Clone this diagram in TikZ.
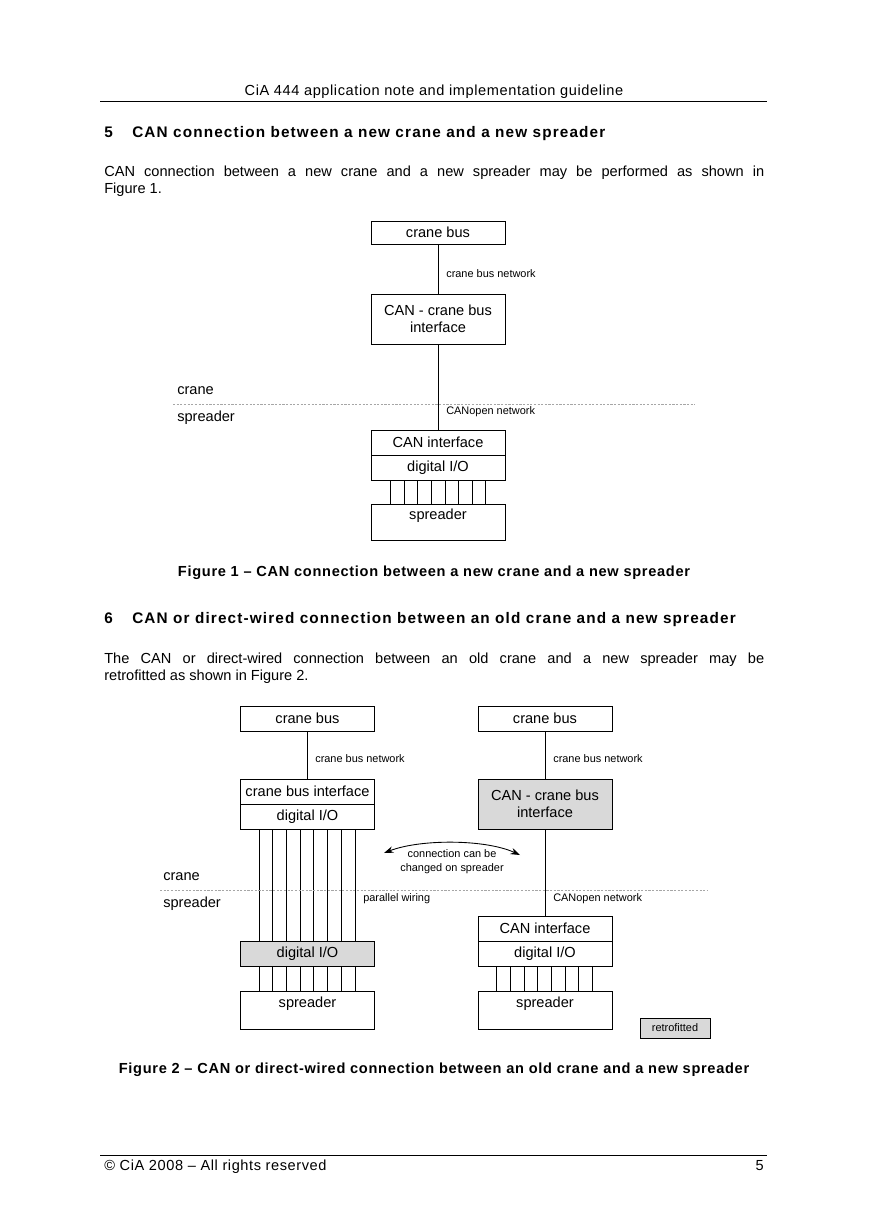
\documentclass[tikz,border=0pt]{standalone}
\usepackage{fontspec}
\setmainfont{Liberation Sans}
\newfontfamily\spcA[LetterSpace=4]{Liberation Sans}
\newfontfamily\spcB[LetterSpace=7.5]{Liberation Sans}
\newfontfamily\spcC[LetterSpace=4.8]{Liberation Sans}
\usetikzlibrary{arrows.meta,calc}
\newcommand\fnorm{\fontsize{10}{11.7}\selectfont}
\newcommand\fbody{\spcA\fontsize{10}{11.7}\selectfont}
\newcommand\fsml{\fontsize{7.5}{9.6}\selectfont}
\newcommand\fhead{\spcB\fontsize{10.5}{12}\selectfont\bfseries}
\newcommand\fcap{\spcC\fontsize{10}{12}\selectfont\bfseries}
\begin{document}
\begin{tikzpicture}[x=0.6858pt,y=-0.6858pt,
  box/.style={draw, line width=0.6pt, inner sep=0pt, minimum width=91.9pt, font=\fnorm, align=center},
  hA/.style={box, minimum height=17.1pt},
  hB/.style={box, minimum height=15.8pt},
  hC/.style={box, minimum height=34.3pt},
  hD/.style={box, minimum height=24.7pt},
  hE/.style={box, minimum height=26.1pt},
  retro/.style={fill=gray!30},
  conn/.style={line width=0.6pt},
  wire/.style={line width=0.6pt},
  sep/.style={gray!70, line width=0.4pt, dash pattern=on 1.5pt off 1pt},
  lbl/.style={font=\fsml, anchor=west, inner sep=0pt},
  side/.style={font=\fnorm, anchor=west, inner sep=0pt},
  txt/.style={font=\fnorm, anchor=base west, inner sep=0pt},
]
\useasboundingbox[fill=white] (0,0) rectangle (868,1228);

% header
\node[font=\fbody, anchor=base, inner sep=0pt] (hdr) at (434,96) {CiA 444 application note and implementation guideline};
\draw[line width=0.6pt] (100,101) -- (767,101);

% section 5
\node[font=\fhead, anchor=base west, inner sep=0pt] (s5n) at (104,138) {5};
\node[font=\fhead, anchor=base west, inner sep=0pt] (s5t) at (132,138) {CAN connection between a new crane and a new spreader};
\node[txt] (p1a) at (104,177) {\makebox[452.6pt][s]{CAN connection between a new crane and a new spreader may be performed as shown in}};
\node[txt] (p1b) at (104,194) {Figure 1.};

% figure 1
\node[hB] (cb1) at (438,232.5) {crane bus};
\node[hC] (cif1) at (438,319) {CAN - crane bus\\interface};
\node[hA] (can1) at (438,442.5) {CAN interface};
\node[hA] (dio1) at (438,467.5) {digital I/O};
\node[hD] (sp1) at (438,522) {};
\node[font=\fnorm, inner sep=0pt] (sp1t) at (438,516) {spreader};
\draw[conn] (cb1) -- (cif1);
\draw[conn] (cif1) -- (can1);
\foreach \i in {0,...,7}
  \draw[wire] ($(dio1.south west)+(20+\i*13.6,0)$) -- ($(sp1.north west)+(20+\i*13.6,0)$);
\draw[sep] (173,404) -- (695,404);
\node[side] (cr1) at (177,391) {crane};
\node[side] (spr1) at (177,418) {spreader};
\node[lbl] (l1) at (446,274) {crane bus network};
\node[lbl] (l2) at (446,412) {CANopen network};
\node[font=\fcap, anchor=base, inner sep=0pt] (cap1) at (434,576) {Figure 1 \textendash{} CAN connection between a new crane and a new spreader};

% section 6
\node[font=\fhead, anchor=base west, inner sep=0pt] (s6n) at (104,623) {6};
\node[font=\fhead, anchor=base west, inner sep=0pt] (s6t) at (132,623) {CAN or direct-wired connection between an old crane and a new spreader};
\node[txt] (p2a) at (104,663) {\makebox[452.6pt][s]{The CAN or direct-wired connection between an old crane and a new spreader may be}};
\node[txt] (p2b) at (104,680) {retrofitted as shown in Figure 2.};

% figure 2 left
\node[hA] (cb2) at (307.5,718.5) {crane bus};
\node[hA] (bi2) at (307.5,791.5) {crane bus interface};
\node[hA] (dio2) at (307.5,816.5) {digital I/O};
\node[hA, retro] (dioL) at (307.5,953.5) {digital I/O};
\node[hE] (spL) at (307.5,1010) {};
\node[font=\fnorm, inner sep=0pt] (spLt) at (307.5,1004) {spreader};
\draw[conn] (cb2) -- (bi2);
\foreach \i in {0,...,7} {
  \draw[wire] ($(dio2.south west)+(19+\i*13.7,0)$) -- ($(dioL.north west)+(19+\i*13.7,0)$);
  \draw[wire] ($(dioL.south west)+(19+\i*13.7,0)$) -- ($(spL.north west)+(19+\i*13.7,0)$);
}
% figure 2 right
\node[hA] (cb3) at (545,718.5) {crane bus};
\node[hC, retro] (cif3) at (545,804) {CAN - crane bus\\interface};
\node[hA] (can3) at (545,928.5) {CAN interface};
\node[hA] (dio3) at (545,953.5) {digital I/O};
\node[hE] (sp3) at (545,1010) {};
\node[font=\fnorm, inner sep=0pt] (sp3t) at (545,1004) {spreader};
\draw[conn] (cb3) -- (cif3);
\draw[conn] (cif3) -- (can3);
\foreach \i in {0,...,7}
  \draw[wire] ($(dio3.south west)+(19+\i*13.7,0)$) -- ($(sp3.north west)+(19+\i*13.7,0)$);

\draw[sep] (160,890) -- (707,890);
\node[side] (cr2) at (163,877) {crane};
\node[side] (spr2) at (163,904) {spreader};
\node[lbl] (l3) at (315,759) {crane bus network};
\node[lbl] (l4) at (553,759) {crane bus network};
\node[lbl] (l5) at (363,899) {parallel wiring};
\node[lbl] (l6) at (553,899) {CANopen network};

\coordinate (aL) at (384,853);
\coordinate (aR) at (520,855);
\draw[line width=0.6pt, {Stealth[length=6.5pt,width=4.5pt]}-{Stealth[length=6.5pt,width=4.5pt]}] (aL) .. controls (420,839) and (485,839) .. (aR);
\node[font=\fsml, align=center, inner sep=0pt] (al) at (452,862) {connection can be\\changed on spreader};

\node[draw, line width=0.6pt, retro, font=\fsml, minimum width=48pt, minimum height=13.7pt, inner sep=0pt] (rt) at (675,1028) {retrofitted};

\node[font=\fcap, anchor=base, inner sep=0pt] (cap2) at (434,1073) {Figure 2 \textendash{} CAN or direct-wired connection between an old crane and a new spreader};

% footer
\draw[line width=0.6pt] (100,1155) -- (767,1155);
\node[font=\fbody, anchor=base west, inner sep=0pt] (ft) at (104,1170) {\textcopyright{} CiA 2008 \textendash{} All rights reserved};
\node[font=\fnorm, anchor=base east, inner sep=0pt] (pg) at (764,1170) {5};
\end{tikzpicture}
\end{document}
